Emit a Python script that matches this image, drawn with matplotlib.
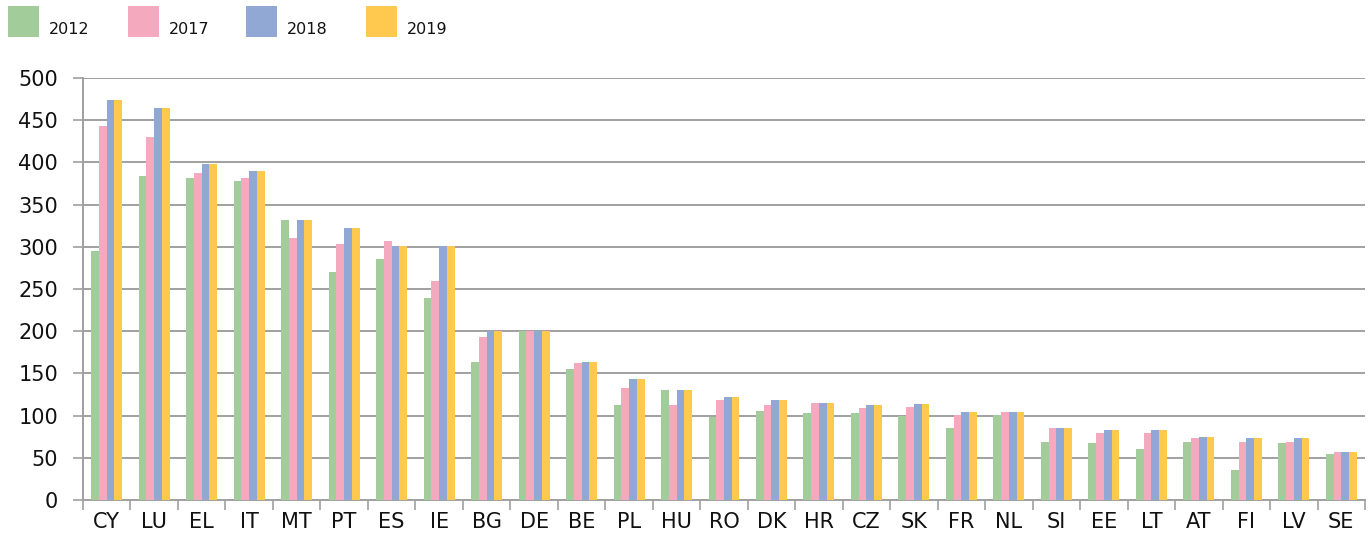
import matplotlib

matplotlib.use("Agg")
import matplotlib.pyplot as plt
import numpy as np
from matplotlib.patches import Rectangle

countries = ["CY", "LU", "EL", "IT", "MT", "PT", "ES", "IE", "BG", "DE", "BE", "PL", "HU", "RO",
             "DK", "HR", "CZ", "SK", "FR", "NL", "SI", "EE", "LT", "AT", "FI", "LV", "SE"]
years = ["2012", "2017", "2018", "2019"]
v2012 = [295, 384, 382, 378, 332, 270, 285, 239, 164, 200, 155, 112, 130, 98,
         106, 103, 103, 99, 85, 101, 69, 67, 60, 69, 36, 67, 54]
v2017 = [443, 430, 387, 381, 310, 303, 307, 260, 193, 200, 162, 133, 112, 118,
         112, 115, 109, 110, 101, 104, 85, 79, 79, 73, 69, 69, 57]
v2018 = [474, 465, 398, 390, 332, 322, 301, 301, 200, 200, 164, 143, 130, 122,
         118, 115, 112, 114, 104, 104, 85, 83, 83, 75, 73, 73, 57]
v2019 = [474, 465, 398, 390, 332, 322, 301, 301, 200, 200, 164, 143, 130, 122,
         118, 115, 112, 114, 104, 104, 85, 83, 83, 75, 73, 73, 57]
colors = ["#a2cd9a", "#f4a9be", "#91a8d4", "#ffc94f"]

fig = plt.figure(figsize=(13.69, 5.38), dpi=100)
ax = fig.add_axes([83 / 1369, 38 / 538, 1282 / 1369, 422 / 538])

x = np.arange(len(countries))
width = 0.163
for i, (vals, color) in enumerate(zip([v2012, v2017, v2018, v2019], colors)):
    ax.bar(x + (i - 1.5) * width, vals, width=width, color=color, linewidth=0, zorder=3)

ax.set_xlim(-0.5, len(countries) - 0.5)
ax.set_ylim(0, 500)
ax.set_yticks(np.arange(0, 501, 50))
ax.yaxis.grid(True, color="#a0a0a0", linewidth=1.4, zorder=0)
ax.set_xticks(x)
ax.set_xticklabels(countries)
ax.set_xticks(np.arange(-0.5, len(countries), 1), minor=True)
ax.tick_params(axis="x", which="major", length=0, pad=9, labelsize=15, colors="#111111")
ax.tick_params(axis="x", which="minor", length=7, width=1.2, color="#a0a0a0", direction="out")
ax.tick_params(axis="y", length=7, width=1.2, color="#a0a0a0", labelsize=15, pad=11,
               labelcolor="#111111")
for side in ["top", "right"]:
    ax.spines[side].set_visible(False)
for side in ["left", "bottom"]:
    ax.spines[side].set_color("#a0a0a0")
    ax.spines[side].set_linewidth(1.4)

# legend drawn as squares with labels sitting low to the right
square_x = [8, 128, 246, 366]
for sx, color, label in zip(square_x, colors, years):
    fig.patches.append(Rectangle((sx / 1369, 1 - 37 / 538), 31 / 1369, 31 / 538,
                                 transform=fig.transFigure, color=color, linewidth=0))
    fig.text((sx + 41) / 1369, 1 - 30 / 538, label, fontsize=11.5, va="center", ha="left",
             color="#111111")

fig.savefig("out.png", dpi=100)
